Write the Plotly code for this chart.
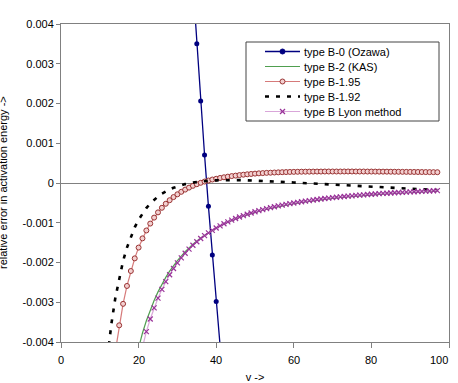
import plotly.graph_objects as go

# ---- data ----
ozawa_x = [34, 35, 36, 37, 38, 39, 40, 41]
ozawa_y = [0.005021, 0.003501, 0.002065, 0.000704, -0.000587, -0.001812, -0.002978, -0.004088]

kas_x = [19, 20, 21, 22, 23, 24, 25, 26, 27, 28, 29, 30, 32, 34, 36, 38, 40, 42, 44, 46, 48,
         50, 52, 54, 56, 58, 60, 62, 64, 66, 68, 70, 72, 74, 76, 78, 80, 82, 84, 86, 88, 90,
         92, 94, 96, 97]
kas_y = [-0.004527, -0.004125, -0.003774, -0.003466, -0.003195, -0.002954, -0.002739,
         -0.002547, -0.002375, -0.002219, -0.002078, -0.001951, -0.001728, -0.001542,
         -0.001384, -0.001249, -0.001133, -0.001032, -0.000945, -0.000868, -0.000800,
         -0.000739, -0.000685, -0.000638, -0.000594, -0.000555, -0.000520, -0.000488,
         -0.000459, -0.000432, -0.000408, -0.000386, -0.000365, -0.000346, -0.000329,
         -0.000312, -0.000297, -0.000284, -0.000270, -0.000258, -0.000247, -0.000236,
         -0.000226, -0.000217, -0.000208, -0.000204]

b195_x = list(range(14, 98))
b195_y = [-0.004238, -0.003580, -0.003040, -0.002590, -0.002214, -0.001896, -0.001625,
          -0.001393, -0.001194, -0.001021, -0.000871, -0.000739, -0.000624, -0.000523,
          -0.000433, -0.000354, -0.000284, -0.000222, -0.000166, -0.000116, -0.000071,
          -0.000031, 0.000005, 0.000036, 0.000063, 0.000087, 0.000107, 0.000127, 0.000144,
          0.000160, 0.000174, 0.000186, 0.000199, 0.000209, 0.000219, 0.000228, 0.000236,
          0.000243, 0.000249, 0.000255, 0.000259, 0.000264, 0.000268, 0.000272, 0.000275,
          0.000278, 0.000280, 0.000282, 0.000284, 0.000285, 0.000286, 0.000287, 0.000288,
          0.000288, 0.000289, 0.000289, 0.000289, 0.000289, 0.000289, 0.000290, 0.000290,
          0.000290, 0.000289, 0.000289, 0.000289, 0.000288, 0.000288, 0.000287, 0.000286,
          0.000286, 0.000285, 0.000284, 0.000283, 0.000282, 0.000281, 0.000280, 0.000279,
          0.000278, 0.000277, 0.000276, 0.000275, 0.000274, 0.000273, 0.000272]

b192_x = [12, 13, 14, 15, 16, 17, 18, 19, 20, 21, 22, 23, 24, 25, 26, 27, 28, 29, 30, 32, 34,
          36, 38, 40, 42, 44, 46, 48, 50, 52, 54, 56, 58, 60, 62, 64, 66, 68, 70, 72, 74, 76,
          78, 80, 82, 84, 86, 88, 90, 92, 94, 96, 97]
b192_y = [-0.004354, -0.003537, -0.002893, -0.002378, -0.001963, -0.001624, -0.001346,
          -0.001116, -0.000924, -0.000764, -0.000630, -0.000516, -0.000420, -0.000339,
          -0.000270, -0.000212, -0.000162, -0.000120, -0.000084, -0.000028, 0.000011,
          0.000039, 0.000056, 0.000067, 0.000073, 0.000074, 0.000072, 0.000067, 0.000061,
          0.000053, 0.000044, 0.000034, 0.000024, 0.000013, 0.000002, -0.000009, -0.000020,
          -0.000032, -0.000043, -0.000054, -0.000065, -0.000076, -0.000087, -0.000097,
          -0.000108, -0.000118, -0.000128, -0.000138, -0.000147, -0.000157, -0.000166,
          -0.000175, -0.000179]

lyon_x = list(range(20, 98))
lyon_y = [-0.004525, -0.004104, -0.003740, -0.003422, -0.003142, -0.002896, -0.002678,
          -0.002483, -0.002309, -0.002152, -0.002011, -0.001883, -0.001768, -0.001662,
          -0.001566, -0.001478, -0.001397, -0.001322, -0.001253, -0.001190, -0.001131,
          -0.001077, -0.001026, -0.000979, -0.000935, -0.000894, -0.000855, -0.000819,
          -0.000786, -0.000754, -0.000724, -0.000696, -0.000669, -0.000644, -0.000621,
          -0.000598, -0.000577, -0.000557, -0.000538, -0.000520, -0.000503, -0.000486,
          -0.000471, -0.000456, -0.000442, -0.000428, -0.000416, -0.000403, -0.000391,
          -0.000380, -0.000369, -0.000359, -0.000349, -0.000340, -0.000331, -0.000322,
          -0.000313, -0.000305, -0.000297, -0.000290, -0.000283, -0.000276, -0.000269,
          -0.000263, -0.000257, -0.000251, -0.000245, -0.000239, -0.000234, -0.000229,
          -0.000223, -0.000219, -0.000214, -0.000209, -0.000205, -0.000201, -0.000196,
          -0.000192]

series_names = ["type B-0 (Ozawa)", "type B-2 (KAS)", "type B-1.95", "type B-1.92",
                "type B Lyon method"]

x_ticks = [0, 20, 40, 60, 80, 100]
x_tick_labels = ["0", "20", "40", "60", "80", "100"]
y_ticks = [0.004, 0.003, 0.002, 0.001, 0, -0.001, -0.002, -0.003, -0.004]
y_tick_labels = ["0.004", "0.003", "0.002", "0.001", "0", "-0.001", "-0.002", "-0.003", "-0.004"]

FONT = "Arial, Liberation Sans, sans-serif"
X_RANGE = [0, 100]

# ---- styles ----
styles = [
    dict(line=dict(color="#000080", width=1.3), marker="dot", mcolor="#000080", mline="#000080"),
    dict(line=dict(color="#4f9f4f", width=1.2), marker=None),
    dict(line=dict(color="#d67a7a", width=1.2), marker="ring", mcolor="#f3d0d0", mline="#993333"),
    dict(line=dict(color="#000000", width=2.6, dash="4px,7px"), marker=None),
    dict(line=dict(color="#d9a6d9", width=1.2), marker="x", mcolor="#993399", mline="#993399"),
]

fig = go.Figure()
fig.add_trace(go.Scatter(x=ozawa_x, y=ozawa_y, mode="lines+markers", name=series_names[0],
                         line=styles[0]["line"],
                         marker=dict(symbol="circle", size=5, color="#000080")))
fig.add_trace(go.Scatter(x=kas_x, y=kas_y, mode="lines", name=series_names[1],
                         line=styles[1]["line"]))
fig.add_trace(go.Scatter(x=b195_x, y=b195_y, mode="lines+markers", name=series_names[2],
                         line=styles[2]["line"],
                         marker=dict(symbol="circle", size=5, color="#f3d0d0",
                                     line=dict(color="#993333", width=1))))
fig.add_trace(go.Scatter(x=b192_x, y=b192_y, mode="lines", name=series_names[3],
                         line=styles[3]["line"]))
fig.add_trace(go.Scatter(x=lyon_x, y=lyon_y, mode="lines+markers", name=series_names[4],
                         line=styles[4]["line"],
                         marker=dict(symbol="x-thin", size=5, color="#993399",
                                     line=dict(color="#993399", width=1.2))))

# ---- compact legend (Excel-like), drawn in paper coordinates ----
PL, PT, PW, PH = 61, 24, 388, 318


def px(x):
    return (x - PL) / PW


def py(y):
    return (PT + PH - y) / PH


shapes = []
annotations = []
box_l, box_r, box_t, box_b = 246, 439, 42, 121
shapes.append(dict(type="rect", xref="paper", yref="paper", x0=px(box_l), x1=px(box_r),
                   y0=py(box_b), y1=py(box_t), line=dict(color="#444444", width=1),
                   fillcolor="white", layer="above"))
row0, row_gap = 51.5, 15
ln_l, ln_r, txt_x = 265, 300, 302
for i, (name, st) in enumerate(zip(series_names, styles)):
    yc = row0 + i * row_gap
    shapes.append(dict(type="line", xref="paper", yref="paper", x0=px(ln_l), x1=px(ln_r),
                       y0=py(yc), y1=py(yc), line=st["line"], layer="above"))
    mx = (ln_l + ln_r) / 2
    r = 2.5
    if st["marker"] in ("dot", "ring"):
        shapes.append(dict(type="circle", xref="paper", yref="paper",
                           x0=px(mx - r), x1=px(mx + r), y0=py(yc + r), y1=py(yc - r),
                           fillcolor=st["mcolor"], line=dict(color=st["mline"], width=1),
                           layer="above"))
    elif st["marker"] == "x":
        for s in (1, -1):
            shapes.append(dict(type="line", xref="paper", yref="paper",
                               x0=px(mx - r), x1=px(mx + r), y0=py(yc - s * r),
                               y1=py(yc + s * r), line=dict(color=st["mcolor"], width=1.2),
                               layer="above"))
    annotations.append(dict(text=name, xref="paper", yref="paper", x=px(txt_x), y=py(yc),
                            xanchor="left", yanchor="middle", showarrow=False,
                            font=dict(family=FONT, size=11, color="#000000")))

# x tick labels written as paper-referenced annotations at each tick position;
# the last one is right-aligned to the plot edge so it stays inside the picture
x_span = X_RANGE[1] - X_RANGE[0]
for i, (v, lab) in enumerate(zip(x_ticks, x_tick_labels)):
    last = i == len(x_ticks) - 1
    annotations.append(dict(text=lab, xref="paper", yref="paper",
                            x=(v - X_RANGE[0]) / x_span, y=py(360),
                            xanchor="right" if last else "center", yanchor="middle",
                            xshift=1 if last else 0, showarrow=False,
                            font=dict(family=FONT, size=11, color="#000000")))

annotations.append(dict(text="relative error in activation energy ->", textangle=-90,
                        xref="paper", yref="paper", x=px(3), y=0.5,
                        xanchor="center", yanchor="middle", showarrow=False,
                        font=dict(family=FONT, size=11, color="#000000")))

fig.update_layout(
    width=458, height=383,
    margin=dict(l=61, r=9, t=24, b=41, autoexpand=False),
    paper_bgcolor="white", plot_bgcolor="white",
    font=dict(family=FONT, size=11, color="#000000"),
    showlegend=False,
    xaxis=dict(range=X_RANGE, tickvals=x_ticks, showticklabels=False, ticks="outside",
               ticklen=5, tickcolor="#808080", showline=True, linecolor="#808080",
               linewidth=1, mirror=True, showgrid=False, zeroline=False, automargin=False,
               title=dict(text="v ->", font=dict(family=FONT, size=11), standoff=31)),
    yaxis=dict(range=[-0.004, 0.004], tickvals=y_ticks, ticktext=y_tick_labels,
               ticks="outside", ticklen=4, tickcolor="#808080", showline=True,
               linecolor="#808080", linewidth=1, mirror=True, showgrid=False,
               zeroline=True, zerolinecolor="#808080", zerolinewidth=1, automargin=False,
               ticklabeloverflow="allow",
               tickfont=dict(family=FONT, size=11, color="#000000")),
    shapes=shapes,
    annotations=annotations,
)

fig.write_html("out.html")
